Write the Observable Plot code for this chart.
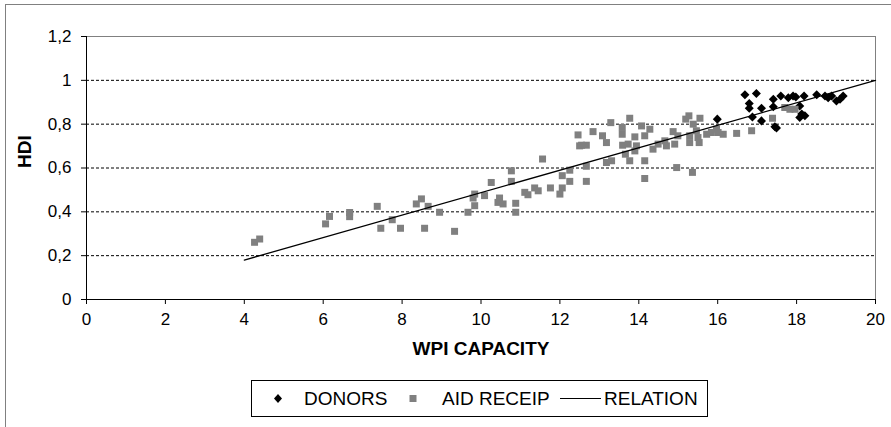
<!DOCTYPE html>
<html><head><meta charset="utf-8">
<script src="https://cdn.jsdelivr.net/npm/d3@7"></script>
<script src="https://cdn.jsdelivr.net/npm/@observablehq/plot@0.6"></script>
<style>
body{margin:0;background:#fff;font-family:Arial,"Liberation Sans",sans-serif;}
#wrap{position:relative;width:891px;height:427px;overflow:hidden;background:#fff;}
#frame{position:absolute;left:5px;top:4px;width:1000px;height:1000px;border-left:1px solid #808080;border-top:1px solid #808080;pointer-events:none;}
#chart{position:absolute;left:0;top:0;}
#legend{position:absolute;left:251px;top:380px;width:455px;height:35px;border:1px solid #000;background:#fff;font-size:19px;color:#000;}
#legend .t{position:absolute;top:0;line-height:35px;white-space:nowrap;}
#legend svg{position:absolute;top:0;}
</style>
</head><body>
<div id="wrap"><div id="frame"></div><div id="chart"></div>
<div id="legend">
<svg width="20" height="35" style="left:16px"><path d="M10,13 L14,17.5 L10,22 L6,17.5 Z" fill="#000"/></svg>
<span class="t" style="left:52px">DONORS</span>
<svg width="20" height="35" style="left:151px"><rect x="6.5" y="14" width="7" height="7" fill="#808080"/></svg>
<span class="t" style="left:190px">AID RECEIP</span>
<svg width="44" height="35" style="left:306px"><line x1="2" x2="43" y1="17.5" y2="17.5" stroke="#000" stroke-width="1.2"/></svg>
<span class="t" style="left:352px">RELATION</span>
</div>
</div>
<script>
// DONORS series
const donorX = [16.69,16.98,16.80,16.80,17.11,16.88,17.11,15.99,17.41,17.41,17.60,17.45,17.49,17.79,17.91,17.98,18.19,18.13,18.21,18.08,18.08,18.51,18.72,18.80,18.89,19.01,19.10,19.18];
const donorY = [0.934,0.940,0.894,0.873,0.873,0.833,0.815,0.823,0.914,0.879,0.929,0.788,0.782,0.921,0.929,0.924,0.929,0.846,0.838,0.830,0.883,0.934,0.929,0.921,0.929,0.906,0.914,0.929];
// AID RECEIP series
const aidX = [4.26,4.39,6.06,6.16,6.67,6.67,7.37,7.46,7.75,7.96,8.36,8.49,8.66,8.57,8.95,9.33,9.67,9.80,9.84,9.84,10.09,10.26,10.47,10.43,10.56,10.77,10.77,10.88,10.88,11.11,11.19,11.36,11.45,11.56,11.76,12.00,12.06,12.06,12.25,12.25,12.46,12.50,12.67,12.67,12.67,12.84,13.08,13.18,13.29,13.18,13.31,13.58,13.58,13.77,13.59,13.73,13.66,13.77,13.90,13.94,13.90,14.07,14.15,14.28,14.15,14.15,14.36,14.49,14.66,14.70,14.87,14.91,14.99,14.96,15.19,15.27,15.29,15.29,15.36,15.38,15.55,15.46,15.50,15.53,15.72,15.84,15.97,16.01,16.14,16.48,16.86,17.39,17.70,17.83,17.96,12.55];
const aidY = [0.261,0.276,0.345,0.379,0.397,0.378,0.425,0.325,0.364,0.325,0.436,0.459,0.425,0.325,0.398,0.311,0.398,0.463,0.428,0.481,0.474,0.534,0.463,0.443,0.436,0.587,0.539,0.439,0.398,0.489,0.478,0.509,0.496,0.641,0.509,0.481,0.565,0.509,0.590,0.539,0.751,0.701,0.608,0.539,0.704,0.766,0.747,0.716,0.807,0.625,0.633,0.785,0.754,0.827,0.704,0.709,0.663,0.633,0.742,0.701,0.678,0.792,0.747,0.777,0.633,0.552,0.686,0.709,0.724,0.701,0.766,0.709,0.747,0.602,0.823,0.838,0.747,0.716,0.580,0.800,0.827,0.770,0.739,0.716,0.754,0.762,0.777,0.762,0.754,0.758,0.770,0.827,0.876,0.868,0.868,0.704];
// RELATION (trend line endpoints)
const relX = [4, 20];
const relY = [0.18, 1.0];
// Axis ticks
const xTicks = [0,2,4,6,8,10,12,14,16,18,20];
const yTicks = [0,0.2,0.4,0.6,0.8,1,1.2];
const gridY = [0.2,0.4,0.6,0.8,1];

const donors = donorX.map((x,i)=>({x, y: donorY[i]}));
const aid = aidX.map((x,i)=>({x, y: aidY[i]}));
const rel = relX.map((x,i)=>({x, y: relY[i]}));

const diamond = {
  draw(ctx, size) {
    const h = Math.sqrt(size / 2);
    ctx.moveTo(0, -h); ctx.lineTo(h, 0); ctx.lineTo(0, h); ctx.lineTo(-h, 0); ctx.closePath();
  }
};

const fmt = d => String(Math.round(d*10)/10).replace(".", ",");

const chart = Plot.plot({
  width: 891, height: 375,
  marginLeft: 86, marginRight: 16, marginTop: 36, marginBottom: 76,
  style: {fontFamily: "Arial, 'Liberation Sans', sans-serif", fontSize: "17px", color: "#000", background: "transparent"},
  x: {domain: [0, 20]},
  y: {domain: [0, 1.2]},
  marks: [
    Plot.ruleY(gridY, {stroke: "#000", strokeDasharray: "3,2", strokeWidth: 1}),
    Plot.ruleY([1.2], {stroke: "#808080"}),
    Plot.ruleX([20], {stroke: "#808080"}),
    Plot.ruleX([0], {stroke: "#000"}),
    Plot.ruleY([0], {stroke: "#000"}),
    Plot.axisX({ticks: xTicks, tickSize: 5, tickPadding: 8, fontSize: 17, label: null, tickFormat: d => String(d), stroke: "#000"}),
    Plot.axisY({ticks: yTicks, tickSize: 5, tickPadding: 10, fontSize: 17, label: null, tickFormat: fmt, stroke: "#000"}),
    Plot.dot(donors, {x: "x", y: "y", symbol: diamond, r: 3.6, fill: "#000", stroke: null}),
    Plot.dot(aid, {x: "x", y: "y", symbol: "square", r: 3.95, fill: "#808080", stroke: null}),
    Plot.line(rel, {x: "x", y: "y", stroke: "#000", strokeWidth: 1.3}),
    Plot.text(["WPI CAPACITY"], {frameAnchor: "bottom", dy: 55, fontWeight: "bold", fontSize: 19, fill: "#000"}),
    Plot.text(["HDI"], {frameAnchor: "left", dx: -62, rotate: -90, fontWeight: "bold", fontSize: 19, fill: "#000"})
  ]
});
document.getElementById("chart").appendChild(chart);
</script>
</body></html>
